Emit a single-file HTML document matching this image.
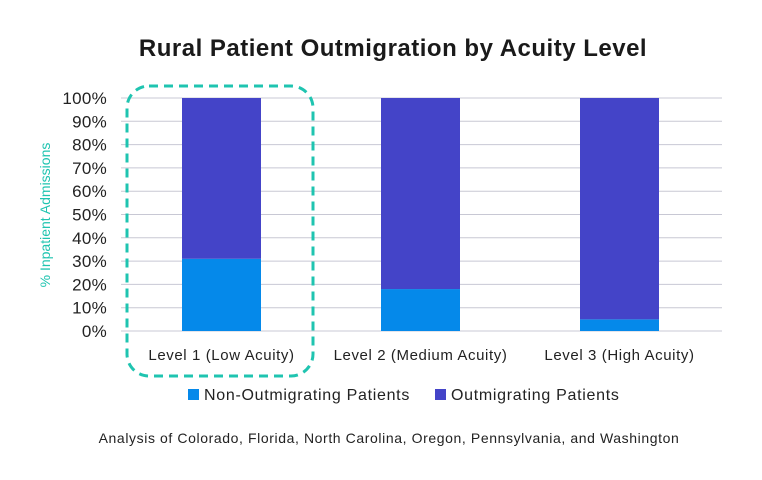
<!DOCTYPE html>
<html><head><meta charset="utf-8"><style>
body{margin:0;background:#fff;width:762px;height:475px;overflow:hidden;font-family:"Liberation Sans",sans-serif}
</style></head><body>
<svg id="chart" width="762" height="475">
<text x="393" y="56" text-anchor="middle" font-size="24" font-weight="bold" letter-spacing="0.5" fill="#1a1a1a">Rural Patient Outmigration by Acuity Level</text>
<g id="grid"></g><g id="bars"></g><g id="labels"></g>
<text transform="translate(50,215) rotate(-90)" text-anchor="middle" font-size="14" fill="#1fc4b0">% Inpatient Admissions</text>
<rect x="127" y="86" width="186" height="290" rx="22" fill="none" stroke="#1fc4b0" stroke-width="3" stroke-dasharray="9,6"/>
<rect x="188" y="389" width="11" height="11" fill="#0589ea"/>
<text x="204" y="400" font-size="16" letter-spacing="0.7" fill="#222">Non-Outmigrating Patients</text>
<rect x="435" y="389" width="11" height="11" fill="#4444c8"/>
<text x="451" y="400" font-size="16" letter-spacing="0.7" fill="#222">Outmigrating Patients</text>
<text x="389" y="443" text-anchor="middle" font-size="14" letter-spacing="0.6" fill="#222">Analysis of Colorado, Florida, North Carolina, Oregon, Pennsylvania, and Washington</text>
</svg>
<script>
const categories=["Level 1 (Low Acuity)","Level 2 (Medium Acuity)","Level 3 (High Acuity)"];
const nonOutmigrating=[31,18,5];
const outmigrating=[69,82,95];
const yTicks=[0,10,20,30,40,50,60,70,80,90,100];
const NS="http://www.w3.org/2000/svg";
const y=v=>331-v*2.33;
const xc=i=>221.5+i*199;
function mk(tag,attrs,parent){const e=document.createElementNS(NS,tag);for(const k in attrs)e.setAttribute(k,attrs[k]);parent.appendChild(e);return e;}
const grid=document.getElementById('grid'),bars=document.getElementById('bars'),labels=document.getElementById('labels');
yTicks.forEach(t=>{
 const l=mk('line',{x1:121,x2:722,y1:y(t),y2:y(t),stroke:'#c8c8d4','stroke-width':1},grid);
 
 
 const tx=mk('text',{x:107,y:y(t)+6,'text-anchor':'end','font-size':17,'letter-spacing':0.3,fill:'#222'},labels);
 tx.textContent=t+'%';
 
 
});
categories.forEach((c,i)=>{
 const a=nonOutmigrating[i],b=outmigrating[i];
 const r1=mk('rect',{x:xc(i)-39.5,width:79,y:y(a),height:y(0)-y(a),fill:'#0589ea'},bars);
 
 
 const r2=mk('rect',{x:xc(i)-39.5,width:79,y:y(a+b),height:y(a)-y(a+b),fill:'#4444c8'},bars);
 
 
 const t=mk('text',{x:xc(i),y:360,'text-anchor':'middle','font-size':15,'letter-spacing':0.6,fill:'#222'},labels);
 t.textContent=c;
 
 
});
</script>
</body></html>
